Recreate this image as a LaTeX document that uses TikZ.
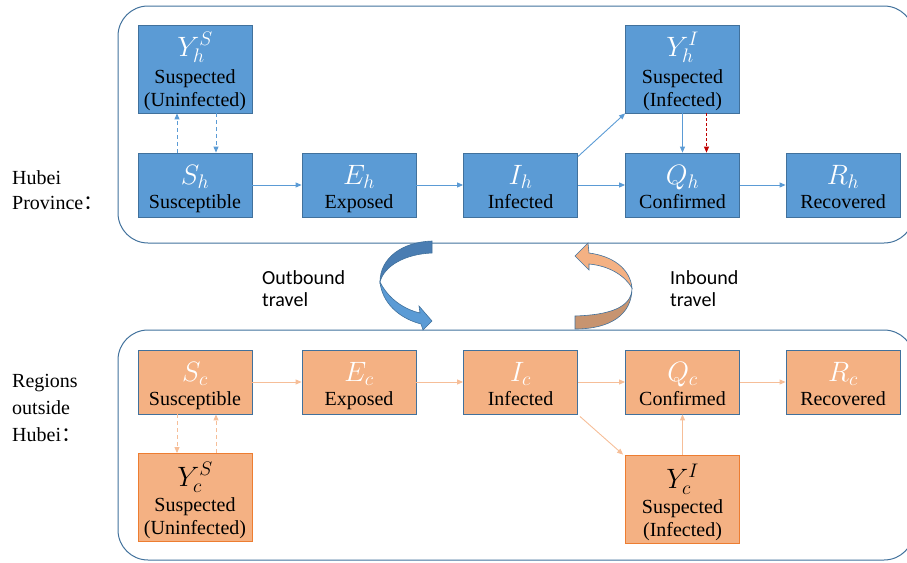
\RequirePackage{fix-cm}
\documentclass[tikz,border=0pt]{standalone}
\usepackage{fontspec}
\setmainfont{Liberation Serif}
\newfontfamily\carlito{Carlito}
\newfontfamily\cjkfont{Noto Sans CJK SC}
\usetikzlibrary{arrows.meta}
\definecolor{bfill}{HTML}{5B9BD5}
\definecolor{bdraw}{HTML}{41719C}
\definecolor{ofill}{HTML}{F4B183}
\definecolor{odraw}{HTML}{ED7D31}
\definecolor{oline}{HTML}{F6BE98}
\definecolor{redline}{HTML}{C00000}
\definecolor{bdark}{HTML}{4A7DB2}
\definecolor{odark}{HTML}{C79470}
\tikzset{
  box/.style={minimum width=114pt, minimum height=64pt, inner sep=0pt, line width=0.8pt, draw=bdraw},
  hbox/.style={box, fill=bfill},
  hybox/.style={hbox, minimum height=88pt},
  obox/.style={box, fill=ofill},
  oybox/.style={box, fill=ofill, draw=odraw, minimum height=88pt},
  mathw/.style={font=\fontsize{28}{30}\selectfont, text=white, anchor=base, inner sep=0pt},
  mathk/.style={font=\fontsize{28}{30}\selectfont, text=black, anchor=base, inner sep=0pt},
  lbl/.style={font=\fontsize{20}{22}\selectfont, anchor=base, inner sep=0pt},
  side/.style={font=\fontsize{20}{22}\selectfont, anchor=base west, inner sep=0pt},
  travel/.style={font=\carlito\fontsize{20}{22}\selectfont, anchor=base west, inner sep=0pt},
  barrow/.style={draw=bfill, line width=0.9pt, -{Triangle[length=6pt,width=5pt]}},
  oarrow/.style={draw=oline, line width=0.9pt, -{Triangle[length=6pt,width=5pt]}},
  bdash/.style={barrow, dash pattern=on 4pt off 3pt},
  odash/.style={oarrow, dash pattern=on 4pt off 3pt},
  rdash/.style={draw=redline, line width=0.9pt, dash pattern=on 3pt off 2pt, -{Triangle[length=6pt,width=5pt]}},
  container/.style={draw=bdraw, line width=1pt, rounded corners=30pt}
}
\begin{document}
\begin{tikzpicture}[x=1pt,y=-1pt]
\useasboundingbox (0,0) rectangle (907,562);
% containers
\draw[container] (118,6) rectangle (914,243);
\draw[container] (118,330) rectangle (914,560);

% side labels
\node[side] (l1) at (12,184) {Hubei};
\node[side] (l2) at (12,209) {Province{\cjkfont ：}};
\node[side] (l3) at (12,387) {Regions};
\node[side] (l4) at (12,414) {outside};
\node[side] (l5) at (12,441) {Hubei{\cjkfont ：}};

% top boxes
\node[hybox] (YhS) at (195,69) {};
\node[hbox] (Sh) at (195,185) {};
\node[hbox] (Eh) at (359,185) {};
\node[hbox] (Ih) at (520.5,185) {};
\node[hbox] (Qh) at (682.5,185) {};
\node[hbox] (Rh) at (843,185) {};
\node[hybox] (YhI) at (682.5,69) {};

\node[mathw] (YhSm) at (195,56) {$Y_h^S$};
\node[lbl] (YhSa) at (195,83) {Suspected};
\node[lbl] (YhSb) at (195,106) {(Uninfected)};
\node[mathw] (YhIm) at (682.5,56) {$Y_h^I$};
\node[lbl] (YhIa) at (682.5,83) {Suspected};
\node[lbl] (YhIb) at (682.5,106) {(Infected)};

\node[mathw] (Shm) at (195,184) {$S_h$};
\node[lbl] (Sht) at (195,208) {Susceptible};
\node[mathw] (Ehm) at (359,184) {$E_h$};
\node[lbl] (Eht) at (359,208) {Exposed};
\node[mathw] (Ihm) at (520.5,184) {$I_h$};
\node[lbl] (Iht) at (520.5,208) {Infected};
\node[mathw] (Qhm) at (682.5,184) {$Q_h$};
\node[lbl] (Qht) at (682.5,208) {Confirmed};
\node[mathw] (Rhm) at (843,184) {$R_h$};
\node[lbl] (Rht) at (843,208) {Recovered};

% bottom boxes
\node[obox] (Sc) at (195,382) {};
\node[obox] (Ec) at (359,382) {};
\node[obox] (Ic) at (520.5,382) {};
\node[obox] (Qc) at (682.5,382) {};
\node[obox] (Rc) at (843,382) {};
\node[oybox] (YcS) at (195,497.5) {};
\node[oybox] (YcI) at (682.5,499) {};

\node[mathw] (Scm) at (195,381) {$S_c$};
\node[lbl] (Sct) at (195,405) {Susceptible};
\node[mathw] (Ecm) at (359,381) {$E_c$};
\node[lbl] (Ect) at (359,405) {Exposed};
\node[mathw] (Icm) at (520.5,381) {$I_c$};
\node[lbl] (Ict) at (520.5,405) {Infected};
\node[mathw] (Qcm) at (682.5,381) {$Q_c$};
\node[lbl] (Qct) at (682.5,405) {Confirmed};
\node[mathw] (Rcm) at (843,381) {$R_c$};
\node[lbl] (Rct) at (843,405) {Recovered};

\node[mathk] (YcSm) at (195,486) {$Y_c^S$};
\node[lbl] (YcSa) at (195,511) {Suspected};
\node[lbl] (YcSb) at (195,534) {(Uninfected)};
\node[mathk] (YcIm) at (682.5,488) {$Y_c^I$};
\node[lbl] (YcIa) at (682.5,513) {Suspected};
\node[lbl] (YcIb) at (682.5,536) {(Infected)};

% top arrows
\draw[barrow] (Sh) -- (Eh);
\draw[barrow] (Eh) -- (Ih);
\draw[barrow] (Ih) -- (Qh);
\draw[barrow] (Qh) -- (Rh);
\draw[bdash] ([xshift=-18pt]Sh.north) -- ([xshift=-18pt]YhS.south);
\draw[bdash] ([xshift=21pt]YhS.south) -- ([xshift=21pt]Sh.north);
\draw[barrow] ([yshift=-4pt]Ih.north east) -- (YhI.south west);
\draw[barrow] (YhI) -- (Qh);
\draw[rdash] ([xshift=24pt]YhI.south) -- ([xshift=24pt]Qh.north);

% bottom arrows
\draw[oarrow] (Sc) -- (Ec);
\draw[oarrow] (Ec) -- (Ic);
\draw[oarrow] (Ic) -- (Qc);
\draw[oarrow] (Qc) -- (Rc);
\draw[odash] ([xshift=-18pt]Sc.south) -- ([xshift=-18pt]YcS.north);
\draw[odash] ([xshift=21pt]YcS.north) -- ([xshift=21pt]Sc.south);
\draw[oarrow] ([xshift=2pt,yshift=-2pt]Ic.south east) -- ([xshift=-2pt]YcI.north west);
\draw[oarrow] (YcI) -- (Qc);

% travel arrows
\filldraw[fill=bdark, draw=bdraw, line width=0.6pt]
  (432,241) .. controls (402,242) and (380,258) .. (380,282)
  .. controls (384,266) and (405,254) .. (432,253) -- cycle;
\filldraw[fill=bfill, draw=bdraw, line width=0.6pt]
  (380,282) .. controls (382,302) and (398,318) .. (421,324)
  -- (423,330) -- (432,321) -- (419,306) -- (420,313)
  .. controls (403,309) and (388,298) .. (380,282) -- cycle;
\filldraw[fill=odark, draw=bdraw, line width=0.6pt]
  (632,288) .. controls (632,308) and (608,315) .. (575,316)
  -- (575,329) .. controls (610,329) and (632,315) .. (632,288) -- cycle;
\filldraw[fill=ofill, draw=bdraw, line width=0.6pt]
  (632,288) .. controls (630,268) and (612,256) .. (589,253)
  -- (588,243) -- (575,256) -- (589,270) -- (589,264)
  .. controls (610,266) and (625,276) .. (632,288) -- cycle;

\node[travel] (ob1) at (262,284) {Outbound};
\node[travel] (ob2) at (262,306) {travel};
\node[travel] (ib1) at (670,284) {Inbound};
\node[travel] (ib2) at (670,306) {travel};
\end{tikzpicture}
\end{document}
